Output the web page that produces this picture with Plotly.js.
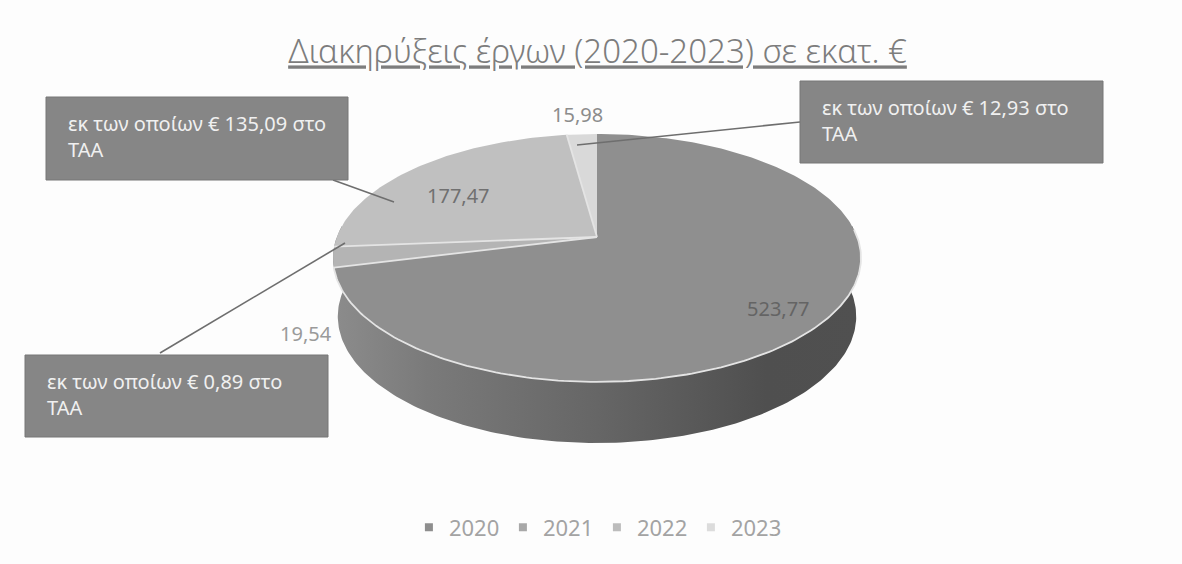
<!DOCTYPE html>
<html><head><meta charset="utf-8">
<script src="https://cdn.plot.ly/plotly-3.0.1.min.js"></script>
<style>html,body{margin:0;padding:0;background:#fdfdfd}#c{width:1182px;height:564px}</style>
</head><body><div id="c"></div>
<script>
const years = ['2020','2021','2022','2023'];
const values = [523.77,19.54,177.47,15.98];
const valueLabels = ['523,77','19,54','177,47','15,98'];
const calloutLabels = ['εκ των οποίων € 135,09 στο<br>ΤΑΑ','εκ των οποίων € 12,93 στο<br>ΤΑΑ','εκ των οποίων € 0,89 στο<br>ΤΑΑ'];
const sliceColors = ['#8f8f8f','#b4b4b4','#c0c0c0','#d9d9d9'];
const legendColors = ['#8e8e8e','#a8a8a8','#bcbcbc','#dcdcdc'];

const FONT = '"Noto Sans", sans-serif';
const total = values.reduce((a,b)=>a+b,0);
// perspective view of the pie disc
const disc = {cx:597, cy:237, b:260.2, a:120.4, k:0.169};
const base = {cx:597, cy:295, b:255.5, a:123, k:0.169};
function proj(d,frac){
  const t = frac*2*Math.PI, u = Math.sin(t), v = Math.cos(t), w = 1+d.k*v;
  return [d.cx+d.b*u/w, d.cy-d.a*v/w];
}
function arc(d,f0,f1){
  const n = Math.max(2,Math.ceil(Math.abs(f1-f0)*360)), pts=[];
  for(let i=0;i<=n;i++) pts.push(proj(d,f0+(f1-f0)*i/n));
  return pts;
}
function lineTrace(pts,color,width){
  return {type:'scatter',mode:'lines',x:pts.map(p=>p[0]),y:pts.map(p=>p[1]),
    line:{color:color,width:width},showlegend:false,hoverinfo:'skip'};
}
const traces = [];
// side wall
const rim = arc(disc,0.235,0.765), low = arc(base,0.765,0.235), wall = rim.concat(low);
traces.push({type:'scatter',mode:'lines',x:wall.map(p=>p[0]),y:wall.map(p=>p[1]),fill:'toself',
  line:{width:0},showlegend:false,hoverinfo:'skip',
  fillgradient:{type:'horizontal',colorscale:[[0,'#8c8c8c'],[0.18,'#7a7a7a'],[0.5,'#666666'],[0.82,'#4f4f4f'],[1,'#505050']]}});
// top-face slices
let acc = 0;
const apex = [disc.cx,disc.cy], cuts = [];
values.forEach((val,i)=>{
  const f0 = acc/total, f1 = (acc+val)/total; acc += val; cuts.push(f1);
  const pts = [apex].concat(arc(disc,f0,f1),[apex]);
  traces.push({type:'scatter',mode:'lines',x:pts.map(p=>p[0]),y:pts.map(p=>p[1]),fill:'toself',
    fillcolor:sliceColors[i],line:{width:0},showlegend:false,hoverinfo:'skip',name:years[i]});
});
// pale separators between slices and along the front rim
cuts.slice(0,3).forEach(f=>traces.push(lineTrace([apex,proj(disc,f)],'#e4e4e4',1.8)));
traces.push(lineTrace(arc(disc,0.24,cuts[0]),'#e4e4e4',1.8));
// leader lines
const leaders = [[[333,180],[394,202]],[[800,122],[577,145]],[[160,353],[345,243]]];
leaders.forEach(l=>traces.push(lineTrace(l,'#6e6e6e',1.6)));
// legend entries
years.forEach((y,i)=>traces.push({type:'scatter',mode:'markers',name:y,x:[null],y:[null],
  marker:{symbol:'square',size:8,color:legendColors[i]},hoverinfo:'skip'}));

const labelPos = [[778,308,'#646464'],[306,333,'#9a9a9a'],[458,195,'#707070'],[577,114,'#8c8c8c']];
const annotations = valueLabels.map((t,i)=>({x:labelPos[i][0],y:labelPos[i][1],xref:'x',yref:'y',text:t,showarrow:false,
  xanchor:'center',yanchor:'middle',font:{family:FONT,size:20,color:labelPos[i][2]}}));
const boxes = [[46,97,348,180],[800,81,1103,163],[25,355,328,437]];
const shapes = boxes.map(b=>({type:'rect',xref:'x',yref:'y',x0:b[0],y0:b[1],x1:b[2],y1:b[3],layer:'above',
  fillcolor:'#868686',line:{color:'#777777',width:1}}));
calloutLabels.forEach((t,i)=>annotations.push({x:boxes[i][0]+20,y:(boxes[i][1]+boxes[i][3])/2-2,xref:'x',yref:'y',text:t,showarrow:false,
  xanchor:'left',yanchor:'middle',align:'left',font:{family:FONT,size:20,color:'#f0f0f0'}}));

const layout = {
  width:1182,height:564,margin:{l:0,r:0,t:0,b:0},paper_bgcolor:'#fdfdfd',plot_bgcolor:'rgba(0,0,0,0)',
  title:{text:'<u>Διακηρύξεις έργων (2020-2023) σε εκατ. €</u>',x:0.5055,xanchor:'center',y:0.908,yanchor:'middle',
    font:{family:FONT,size:33,color:'#7d7d7d',weight:300}},
  xaxis:{range:[0,1182],visible:false,fixedrange:true},
  yaxis:{range:[564,0],visible:false,fixedrange:true},
  legend:{orientation:'h',x:0.505,xanchor:'center',y:0.065,yanchor:'middle',font:{family:FONT,size:22,color:'#a3a3a3'},
    itemwidth:30,entrywidth:49,bgcolor:'rgba(0,0,0,0)'},
  annotations:annotations,shapes:shapes,showlegend:true
};
Plotly.newPlot('c',traces,layout,{displayModeBar:false,staticPlot:true});
</script></body></html>
